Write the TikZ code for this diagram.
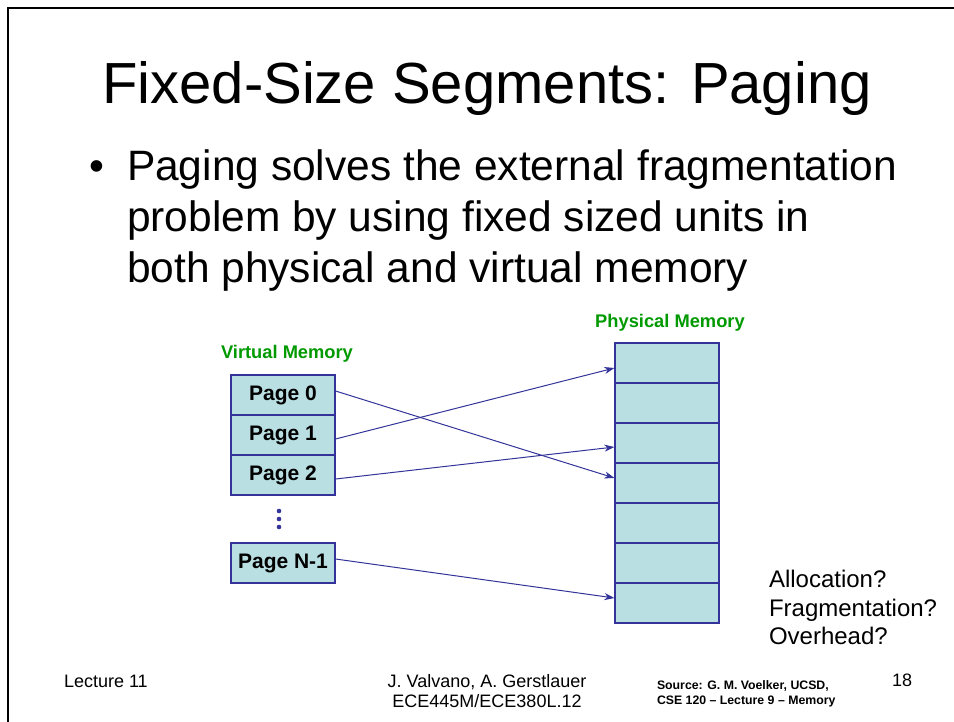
\documentclass[tikz,border=0pt]{standalone}
\usepackage{fontspec}
\setmainfont{Liberation Sans}
\usetikzlibrary{arrows.meta}
\definecolor{boxfill}{RGB}{185,223,227}
\definecolor{edgeblue}{RGB}{51,51,153}
\definecolor{labgreen}{RGB}{0,153,0}
\newcommand{\fs}[1]{\fontsize{#1}{#1}\selectfont}
\tikzset{
  txt/.style={inner sep=0pt, outer sep=0pt},
  pagebox/.style={draw=edgeblue, fill=boxfill, line width=1.1pt, minimum width=104pt, minimum height=40pt, inner sep=0pt, font=\fs{21}\bfseries},
  cellbox/.style={draw=edgeblue, fill=boxfill, line width=1.1pt, minimum width=104pt, minimum height=40pt, inner sep=0pt},
  maparrow/.style={draw=edgeblue, line width=1pt, -{Stealth[length=10pt,width=7pt,inset=3pt]}},
  memlabel/.style={txt, text=labgreen, font=\fs{18.3}\bfseries},
}
\begin{document}
\begin{tikzpicture}[x=1pt, y=-1pt]
\useasboundingbox (0,0) rectangle (954,721);
% frame
\draw[line width=2pt, line cap=rect] (8,721) -- (8,8) -- (954,8);
% title
\node[txt, anchor=base, font=\fs{58}] (title) at (487,103) {Fixed-Size Segments: Paging};
% bullet
\node[txt, anchor=base west, font=\fs{42.5}] (bul) at (89,180) {\textbullet};
\node[txt, anchor=base west, font=\fs{42.5}] (b1) at (127,180) {Paging solves the external fragmentation};
\node[txt, anchor=base west, font=\fs{42.5}] (b2) at (127,231) {problem by using fixed sized units in};
\node[txt, anchor=base west, font=\fs{42.5}] (b3) at (127,282) {both physical and virtual memory};
% labels
\node[memlabel, anchor=base] (vlab) at (287,358) {Virtual Memory};
\node[memlabel, anchor=base] (plab) at (670,327) {Physical Memory};
% virtual pages
\node[pagebox] (pg0) at (283,395) {Page 0};
\node[pagebox] (pg1) at (283,435) {Page 1};
\node[pagebox] (pg2) at (283,475) {Page 2};
\node[pagebox] (pgn) at (283,563) {Page N-1};
\foreach \yy in {511,519,527} \fill[edgeblue] (279,\yy) circle (2.3pt);
% physical frames
\foreach \i/\yy in {0/363,1/403,2/443,3/483,4/523,5/563,6/603}
  \node[cellbox] (p\i) at (667,\yy) {};
% mappings
\draw[maparrow] ([yshift=4pt]pg0.east) -- ([yshift=5pt]p3.west);
\draw[maparrow] ([yshift=-4pt]pg1.east) -- ([yshift=-5pt]p0.west);
\draw[maparrow] ([yshift=-4pt]pg2.east) -- ([yshift=-4pt]p2.west);
\draw[maparrow] ([yshift=4pt]pgn.east) -- ([yshift=5pt]p6.west);
% questions
\node[txt, anchor=base west, font=\fs{24}] (q1) at (769,587) {Allocation?};
\node[txt, anchor=base west, font=\fs{24}] (q2) at (769,616) {Fragmentation?};
\node[txt, anchor=base west, font=\fs{24}] (q3) at (769,644) {Overhead?};
% footer
\node[txt, anchor=base west, font=\fs{18}] (lec) at (64,687) {Lecture 11};
\node[txt, anchor=base, font=\fs{18}] (auth) at (487,687) {J. Valvano, A. Gerstlauer};
\node[txt, anchor=base, font=\fs{18}] (course) at (487,707) {ECE445M/ECE380L.12};
\node[txt, anchor=base west, font=\fs{12.3}\bfseries] (src1) at (657,689) {Source: G. M. Voelker, UCSD,};
\node[txt, anchor=base west, font=\fs{12.3}\bfseries] (src2) at (657,704) {CSE 120 – Lecture 9 – Memory};
\node[txt, anchor=base west, font=\fs{18}] (num) at (892,686) {18};
\end{tikzpicture}
\end{document}
